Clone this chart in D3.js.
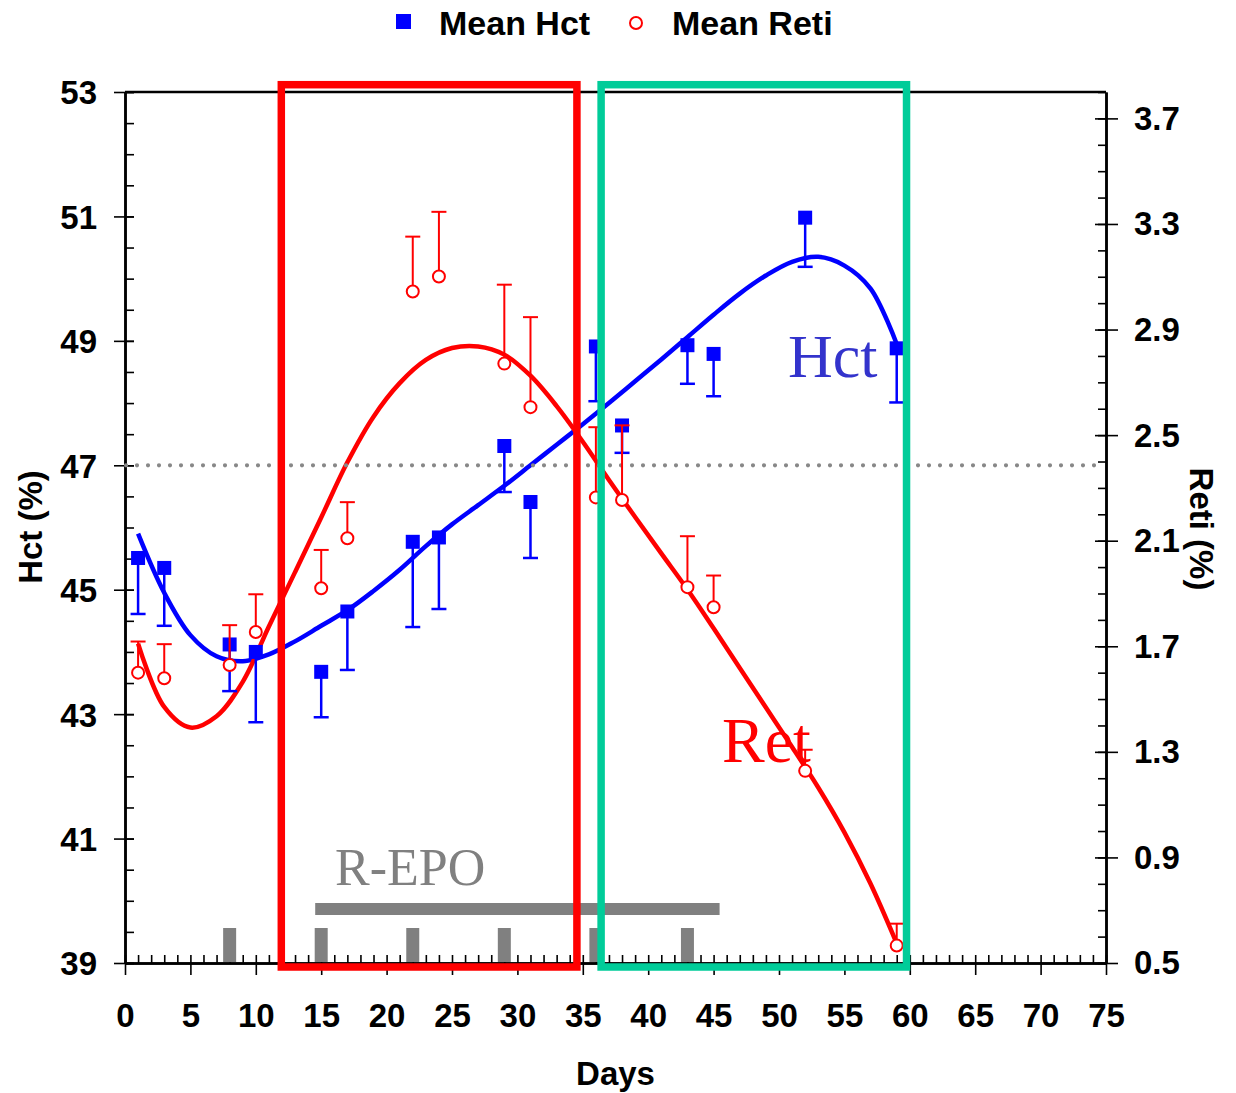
<!DOCTYPE html>
<html>
<head>
<meta charset="utf-8">
<script src="https://cdn.jsdelivr.net/npm/d3@7"></script>
<style>
  html, body { margin: 0; padding: 0; background: #fff; }
  svg { display: block; }
</style>
</head>
<body>
<svg id="chart" width="1236" height="1093"></svg>
<script>
// Sampling days
const days = [1, 3, 8, 10, 15, 17, 22, 24, 29, 31, 36, 38, 43, 45, 52, 59];

// Mean haematocrit (%) and SD (drawn below the mean)
const hctMean = [45.51, 45.35, 44.12, 44.00, 43.68, 44.65, 45.77, 45.84, 47.31, 46.41, 48.91, 47.64, 48.93, 48.79, 50.98, 48.88];
const hctSD   = [0.90, 0.93, 0.75, 1.13, 0.73, 0.94, 1.37, 1.15, 0.74, 0.90, 0.88, 0.44, 0.62, 0.68, 0.79, 0.87];

// Mean reticulocytes (%) and SD (drawn above the mean)
const retiMean = [1.600, 1.579, 1.629, 1.754, 1.920, 2.109, 3.044, 3.101, 2.771, 2.606, 2.264, 2.254, 1.924, 1.848, 1.228, 0.566];
const retiSD   = [0.118, 0.129, 0.151, 0.143, 0.145, 0.137, 0.208, 0.245, 0.299, 0.341, 0.266, 0.283, 0.193, 0.120, 0.080, 0.083];

// Fitted trend curves
const fitDays = [1, 3, 5, 7, 9, 11, 13, 15, 17, 19, 21, 23, 25, 27, 29, 31, 33, 35, 37, 39, 41, 43, 45, 47, 49, 51, 53, 55, 57, 59];
const hctFit  = [45.90, 44.95, 44.27, 43.93, 43.85, 43.96, 44.17, 44.42, 44.67, 44.98, 45.32, 45.70, 46.05, 46.36, 46.67, 47.00, 47.33, 47.66, 48.00, 48.35, 48.70, 49.06, 49.42, 49.76, 50.05, 50.27, 50.35, 50.21, 49.84, 48.95];
const retiFit = [1.71, 1.47, 1.392, 1.435, 1.565, 1.775, 1.981, 2.188, 2.397, 2.57, 2.697, 2.785, 2.83, 2.836, 2.805, 2.725, 2.61, 2.475, 2.33, 2.19, 2.052, 1.915, 1.768, 1.618, 1.468, 1.318, 1.165, 0.995, 0.80, 0.574];

// R-EPO injections and treatment period (days)
const doseDays = [8, 15, 22, 29, 36, 43];
const epoPeriod = [15, 45];

// Axis ticks
const xTicks = [0, 5, 10, 15, 20, 25, 30, 35, 40, 45, 50, 55, 60, 65, 70, 75];
const hctTicks = [39, 41, 43, 45, 47, 49, 51, 53];
const retiTicks = [0.5, 0.9, 1.3, 1.7, 2.1, 2.5, 2.9, 3.3, 3.7];

// Reference haematocrit level
const hctRef = 47;

// Highlighted phases (days)
const phaseA = [11.95, 34.55];
const phaseB = [36.4, 59.75];

const BLUE = "#0000ff", RED = "#ff0000", GREEN = "#00cc99", GRAY = "#808080";
const SANS = "'Liberation Sans', Arial, sans-serif";
const SERIF = "'Liberation Serif', 'Times New Roman', serif";

const svg = d3.select("#chart");
const pLeft = 125, pRight = 1106, pTop = 92, pBottom = 963;

const x = d3.scaleLinear().domain([0, 75]).range([pLeft, pRight]);
const yH = d3.scaleLinear().domain([39, 53]).range([pBottom, pTop]);
const yR = d3.scaleLinear().domain([0.5, 3.8]).range([pBottom, pTop]);

// ---------- axes ----------
function styleAxis(g) {
  g.select(".domain").attr("stroke", "#000").attr("stroke-width", 2.5);
  g.selectAll(".tick line").attr("stroke", "#000").attr("stroke-width", 1.6);
}

// bottom: minor ticks inside, major ticks outside
const xMinor = d3.range(0, 76, 1);
svg.append("g").attr("transform", `translate(0,${pBottom})`)
  .call(d3.axisBottom(x).tickValues(xMinor).tickSize(-8).tickSizeOuter(0).tickFormat(""))
  .call(styleAxis);
const gx = svg.append("g").attr("transform", `translate(0,${pBottom})`)
  .call(d3.axisBottom(x).tickValues(xTicks).tickSize(12).tickSizeOuter(0))
  .call(styleAxis);
gx.selectAll("text").attr("font-family", SANS).attr("font-weight", "bold")
  .attr("font-size", 33).attr("fill", "#000").attr("dy", 0).attr("y", 64);

// left: minor ticks inside, major ticks crossing
const hMinor = d3.range(39, 53.01, 0.5);
svg.append("g").attr("transform", `translate(${pLeft},0)`)
  .call(d3.axisLeft(yH).tickValues(hMinor).tickSize(-9).tickSizeOuter(0).tickFormat(""))
  .call(styleAxis);
const gl = svg.append("g").attr("transform", `translate(${pLeft},0)`)
  .call(d3.axisLeft(yH).tickValues(hctTicks).tickSize(11).tickSizeOuter(0))
  .call(styleAxis);
gl.selectAll(".tick line").attr("x1", 9);
gl.selectAll("text").attr("font-family", SANS).attr("font-weight", "bold")
  .attr("font-size", 33).attr("fill", "#000").attr("x", -28).attr("dy", "0.36em");

// right: minor ticks inside, major ticks crossing
const rMinor = d3.range(0.5, 3.81, 0.1);
svg.append("g").attr("transform", `translate(${pRight},0)`)
  .call(d3.axisRight(yR).tickValues(rMinor).tickSize(-8).tickSizeOuter(0).tickFormat(""))
  .call(styleAxis);
const gr = svg.append("g").attr("transform", `translate(${pRight},0)`)
  .call(d3.axisRight(yR).tickValues(retiTicks).tickSize(12).tickSizeOuter(0).tickFormat(d3.format(".1f")))
  .call(styleAxis);
gr.selectAll(".tick line").attr("x1", -11);
gr.selectAll("text").attr("font-family", SANS).attr("font-weight", "bold")
  .attr("font-size", 33).attr("fill", "#000").attr("x", 28).attr("dy", "0.33em");

// top frame
svg.append("line").attr("x1", pLeft).attr("x2", pRight).attr("y1", pTop).attr("y2", pTop)
  .attr("stroke", "#000").attr("stroke-width", 2.5);

// axis titles
svg.append("text").attr("transform", `translate(${(pLeft + pRight) / 2},1085)`)
  .attr("text-anchor", "middle").attr("font-family", SANS).attr("font-weight", "bold")
  .attr("font-size", 33).text("Days");
svg.append("text").attr("transform", "translate(42,527) rotate(-90)")
  .attr("text-anchor", "middle").attr("font-family", SANS).attr("font-weight", "bold")
  .attr("font-size", 33).text("Hct (%)");
svg.append("text").attr("transform", "translate(1190,529) rotate(90)")
  .attr("text-anchor", "middle").attr("font-family", SANS).attr("font-weight", "bold")
  .attr("font-size", 33).text("Reti (%)");

// ---------- R-EPO treatment markers ----------
const doseH = 35, doseW = 13;
svg.append("g").selectAll("rect").data(doseDays).join("rect")
  .attr("x", d => x(d) - doseW / 2).attr("y", pBottom - doseH)
  .attr("width", doseW).attr("height", doseH - 1).attr("fill", GRAY);
svg.append("line")
  .attr("x1", x(epoPeriod[0])).attr("x2", x(epoPeriod[1]))
  .attr("y1", 909).attr("y2", 909)
  .attr("stroke", GRAY).attr("stroke-width", 12).attr("stroke-linecap", "square");
svg.append("text").attr("x", 335).attr("y", 885)
  .attr("font-family", SERIF).attr("font-size", 52).attr("fill", GRAY).text("R-EPO");

// ---------- fitted curves ----------
const hctLine = d3.line().x((d, i) => x(fitDays[i])).y(d => yH(d)).curve(d3.curveCatmullRom.alpha(0.5));
const retiLine = d3.line().x((d, i) => x(fitDays[i])).y(d => yR(d)).curve(d3.curveCatmullRom.alpha(0.5));
svg.append("path").attr("d", hctLine(hctFit)).attr("fill", "none")
  .attr("stroke", BLUE).attr("stroke-width", 4.5);
svg.append("path").attr("d", retiLine(retiFit)).attr("fill", "none")
  .attr("stroke", RED).attr("stroke-width", 4.5);

// reference level
svg.append("line").attr("x1", pLeft + 1).attr("x2", pRight - 6)
  .attr("y1", yH(hctRef)).attr("y2", yH(hctRef))
  .attr("stroke", "#888").attr("stroke-width", 4.2)
  .attr("stroke-linecap", "round").attr("stroke-dasharray", "0 11");

// ---------- Hct points with SD below ----------
const cap = 7.5;
const hct = days.map((d, i) => ({ d, m: hctMean[i], sd: hctSD[i] }));
const gH = svg.append("g");
gH.selectAll("line.v").data(hct).join("line").attr("class", "v")
  .attr("x1", p => x(p.d)).attr("x2", p => x(p.d))
  .attr("y1", p => yH(p.m)).attr("y2", p => yH(p.m - p.sd))
  .attr("stroke", BLUE).attr("stroke-width", 2.5);
gH.selectAll("line.c").data(hct).join("line").attr("class", "c")
  .attr("x1", p => x(p.d) - cap).attr("x2", p => x(p.d) + cap)
  .attr("y1", p => yH(p.m - p.sd)).attr("y2", p => yH(p.m - p.sd))
  .attr("stroke", BLUE).attr("stroke-width", 2.5);
gH.selectAll("rect").data(hct).join("rect")
  .attr("x", p => x(p.d) - 7).attr("y", p => yH(p.m) - 7)
  .attr("width", 14).attr("height", 14).attr("fill", BLUE);

// ---------- Reti points with SD above ----------
const reti = days.map((d, i) => ({ d, m: retiMean[i], sd: retiSD[i] }));
const gR = svg.append("g");
gR.selectAll("line.v").data(reti).join("line").attr("class", "v")
  .attr("x1", p => x(p.d)).attr("x2", p => x(p.d))
  .attr("y1", p => yR(p.m)).attr("y2", p => yR(p.m + p.sd))
  .attr("stroke", RED).attr("stroke-width", 2);
gR.selectAll("line.c").data(reti).join("line").attr("class", "c")
  .attr("x1", p => x(p.d) - cap).attr("x2", p => x(p.d) + cap)
  .attr("y1", p => yR(p.m + p.sd)).attr("y2", p => yR(p.m + p.sd))
  .attr("stroke", RED).attr("stroke-width", 2);
gR.selectAll("circle").data(reti).join("circle")
  .attr("cx", p => x(p.d)).attr("cy", p => yR(p.m)).attr("r", 6)
  .attr("fill", "#fff").attr("stroke", RED).attr("stroke-width", 2);

// ---------- curve labels ----------
svg.append("text").attr("x", 788).attr("y", 377)
  .attr("font-family", SERIF).attr("font-size", 62).attr("fill", "#3333cc").text("Hct");
svg.append("text").attr("x", 722).attr("y", 762)
  .attr("font-family", SERIF).attr("font-size", 64).attr("fill", RED).text("Ret");

// ---------- highlighted phases ----------
function phaseBox(range, color) {
  svg.append("rect")
    .attr("x", x(range[0])).attr("y", pTop - 7.3)
    .attr("width", x(range[1]) - x(range[0])).attr("height", pBottom + 4 - (pTop - 7.3))
    .attr("fill", "none").attr("stroke", color).attr("stroke-width", 7.5);
}
phaseBox(phaseA, RED);
phaseBox(phaseB, GREEN);

// ---------- legend ----------
const lg = svg.append("g");
lg.append("rect").attr("x", 396).attr("y", 14).attr("width", 15).attr("height", 15).attr("fill", BLUE);
lg.append("text").attr("x", 439).attr("y", 35).attr("font-family", SANS).attr("font-weight", "bold")
  .attr("font-size", 34).text("Mean Hct");
lg.append("circle").attr("cx", 636).attr("cy", 23).attr("r", 6)
  .attr("fill", "#fff").attr("stroke", RED).attr("stroke-width", 2);
lg.append("text").attr("x", 672).attr("y", 35).attr("font-family", SANS).attr("font-weight", "bold")
  .attr("font-size", 34).text("Mean Reti");
</script>
</body>
</html>
